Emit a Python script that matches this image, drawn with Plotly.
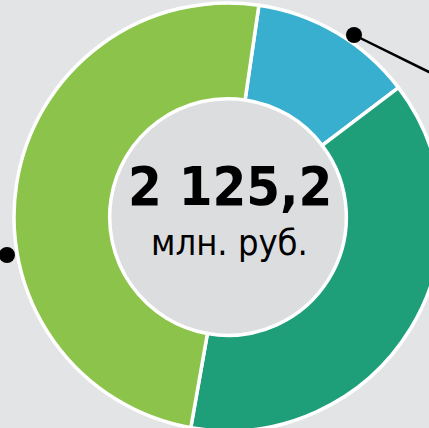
import plotly.graph_objects as go

# Structure of the total, million rubles
segments = ["Сегмент 1", "Сегмент 2", "Сегмент 3"]
values = [262.7, 810.0, 1052.5]
colors = ["#38AFCE", "#1F9E7A", "#8CC34A"]
total_label = "2 125,2"
unit_label = "млн. руб."

W, H = 442, 431
cx, cy, R = 228, 217, 214


def px(x):
    return x / W


def py(y):
    return 1 - y / H


fig = go.Figure(
    go.Pie(
        labels=segments,
        values=values,
        hole=0.553,
        sort=False,
        direction="clockwise",
        rotation=8.3,
        marker=dict(colors=colors, line=dict(color="white", width=3.5)),
        textinfo="none",
        hoverinfo="label+value+percent",
        showlegend=False,
        domain=dict(x=[(cx - R) / W, 1], y=[0, 1 - (cy - R) / H]),
    )
)

shapes = [
    # inner disc of the donut
    dict(type="circle", xref="paper", yref="paper", layer="below",
         x0=px(cx - 118), x1=px(cx + 118), y0=py(cy + 118), y1=py(cy - 118),
         fillcolor="#DCDDDF", line=dict(width=0)),
    # leader lines with dots
    dict(type="line", xref="paper", yref="paper",
         x0=px(354), y0=py(35), x1=px(442), y1=py(78.4),
         line=dict(color="black", width=2.5)),
    dict(type="circle", xref="paper", yref="paper",
         x0=px(346), x1=px(362), y0=py(43), y1=py(27),
         fillcolor="black", line=dict(width=0)),
    dict(type="circle", xref="paper", yref="paper",
         x0=px(-1), x1=px(15), y0=py(263), y1=py(247),
         fillcolor="black", line=dict(width=0)),
]

annotations = [
    dict(text=f"<b>{total_label}</b>", x=px(230), y=py(186), xref="paper", yref="paper",
         showarrow=False, xanchor="center", yanchor="middle",
         font=dict(family="DejaVu Sans Condensed, DejaVu Sans", size=54, color="black")),
    dict(text=unit_label, x=px(229), y=py(243), xref="paper", yref="paper",
         showarrow=False, xanchor="center", yanchor="middle",
         font=dict(family="DejaVu Sans Condensed, DejaVu Sans", size=36, color="black")),
]

fig.update_layout(
    width=W, height=H,
    margin=dict(l=0, r=0, t=0, b=0),
    paper_bgcolor="#E3E4E6",
    plot_bgcolor="#E3E4E6",
    shapes=shapes,
    annotations=annotations,
)

fig.write_html("out.html", post_script="document.body.style.margin='0';document.body.style.overflow='hidden';")
